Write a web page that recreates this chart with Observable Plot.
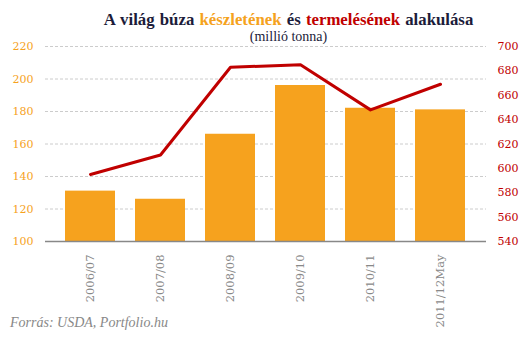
<!DOCTYPE html>
<html><head><meta charset="utf-8">
<script src="https://cdn.jsdelivr.net/npm/d3@7"></script>
<script src="https://cdn.jsdelivr.net/npm/@observablehq/plot@0.6"></script>
<style>
body{margin:0;background:#fff;}
#wrap{position:relative;width:531px;height:342px;overflow:hidden;}
#title{position:absolute;left:0;width:577px;top:12px;height:16px;line-height:16px;text-align:center;font-family:"Liberation Serif",serif;font-weight:bold;font-size:16.8px;color:#1c1c3a;white-space:nowrap;word-spacing:1px;}
#sub{position:absolute;left:0;width:577px;top:30px;height:14px;line-height:14px;text-align:center;font-family:"Liberation Serif",serif;font-size:14px;color:#1c1c3a;}
#cap{position:absolute;left:10px;top:315px;font-family:"Liberation Serif",serif;font-style:italic;font-size:14px;color:#888;}
#chart{position:absolute;left:0;top:0;}
</style></head>
<body><div id="wrap"><div id="chart"></div>
<div id="title">A világ búza <span style="color:#f5a21d">készletének</span> és <span style="color:#c00000">termelésének</span> alakulása</div>
<div id="sub">(millió tonna)</div>
<div id="cap">Forrás: USDA, Portfolio.hu</div>
</div>
<script>
const years = ["2006/07","2007/08","2008/09","2009/10","2010/11","2011/12May"];
const stocks = [131, 126, 166, 196, 182, 181];
const production = [595, 611, 683, 685, 648, 669];
const leftTicks = [100,120,140,160,180,200,220];
const rightTicks = [540,560,580,600,620,640,660,680,700];

const toLeft = v => 100 + (v - 540) * 120 / 160;
const data = years.map((y,i)=>({year:y, stock:stocks[i], prod:production[i]}));

const chart = Plot.plot({
  width: 531, height: 342,
  marginTop: 46, marginBottom: 101, marginLeft: 45, marginRight: 45,
  style: {fontFamily: '"DejaVu Serif", serif', background: "transparent"},
  x: {domain: years, padding: 0.28, label: null},
  y: {domain: [100, 220], label: null},
  marks: [
    Plot.ruleY(leftTicks.filter(t=>t>100), {stroke:"#ccc", strokeDasharray:"3,2"}),
    Plot.barY(data, {x:"year", y1:100, y2:"stock", fill:"#f6a21e"}),
    Plot.ruleY([100], {stroke:"#888", strokeWidth:1.5}),
    Plot.line(data, {x:"year", y: d => toLeft(d.prod), stroke:"#c00000", strokeWidth:3}),
    Plot.axisY(leftTicks, {anchor:"left", tickSize:0, tickPadding:12, fill:"#f6a21e", fontSize:11, label:null}),
    Plot.axisY(rightTicks.map(toLeft), {anchor:"right", tickSize:0, tickPadding:11, fill:"#c00000", fontSize:11, label:null, tickFormat: v => String(Math.round(540 + (v-100)*160/120))}),
    Plot.axisX({tickSize:0, tickRotate:-90, tickPadding:13, fill:"#888", fontSize:11.5, fontWeight:300, label:null})
  ]
});
document.getElementById("chart").appendChild(chart);
</script></body></html>
